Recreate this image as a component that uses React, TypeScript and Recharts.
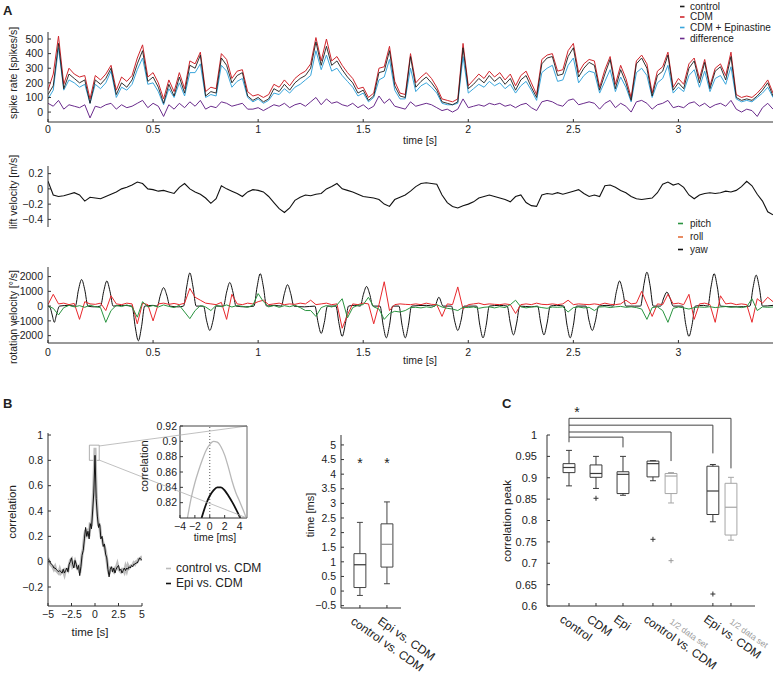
import React from "react";
import {
  LineChart,
  Line,
  XAxis,
  YAxis,
  ScatterChart,
  Scatter,
  ReferenceArea,
  ReferenceLine,
} from "recharts";

const FONT = "'Liberation Sans', Arial, Helvetica, sans-serif";
const W = 779;
const H = 675;
const INK = "#222";
const AXIS = "#333";

// ---- Panel A: one sample every 25 ms, 0 .. 3.45 s ----
const SAMPLE_STEP = 0.025;

const spikeControl = [
  120, 180, 470, 160, 260, 230, 200, 220, 60, 220,
  190, 230, 300, 120, 200, 170, 220, 330, 420, 210,
  240, 170, 60, 190, 110, 240, 130, 320, 300, 390,
  110, 140, 130, 370, 320, 200, 250, 270, 110, 80,
  100, 70, 90, 160, 140, 190, 150, 200, 230, 250,
  300, 480, 320, 450, 320, 350, 290, 240, 200, 130,
  150, 80, 110, 270, 280, 420, 180, 110, 100, 380,
  170, 210, 240, 200, 150, 70, 60, 50, 70, 440,
  160, 190, 230, 200, 250, 210, 240, 190, 230, 150,
  220, 250, 170, 100, 330, 370, 380, 250, 260, 380,
  440, 240, 300, 340, 320, 150, 260, 360, 160, 290,
  200, 80, 330, 370, 300, 110, 250, 280, 390, 150,
  200, 160, 300, 350, 200, 340, 160, 280, 310, 220,
  380, 100, 80, 90, 80, 110, 150, 200, 110,
];

const spikeCdm = [
  150, 260, 520, 190, 300, 260, 240, 250, 90, 250,
  220, 260, 320, 150, 240, 210, 250, 370, 460, 240,
  270, 200, 90, 220, 140, 270, 160, 350, 330, 410,
  140, 170, 160, 400, 360, 230, 280, 290, 140, 110,
  120, 100, 120, 190, 170, 220, 180, 230, 260, 280,
  330, 510, 350, 500, 350, 380, 320, 270, 230, 160,
  170, 100, 130, 300, 310, 450, 210, 130, 120, 400,
  200, 240, 270, 230, 170, 90, 80, 70, 90, 470,
  180, 220, 260, 230, 280, 240, 270, 220, 260, 180,
  250, 280, 200, 120, 360, 390, 400, 280, 290, 420,
  470, 270, 330, 360, 350, 170, 290, 380, 190, 320,
  230, 100, 350, 390, 330, 130, 280, 310, 410, 170,
  230, 190, 330, 370, 230, 360, 180, 300, 330, 250,
  410, 120, 100, 110, 100, 130, 170, 220, 130,
];

const spikeEpi = [
  90, 150, 440, 150, 220, 200, 170, 190, 60, 190,
  160, 200, 280, 100, 170, 150, 190, 290, 370, 190,
  200, 140, 50, 160, 100, 200, 110, 270, 270, 330,
  100, 120, 110, 320, 280, 170, 210, 230, 100, 70,
  90, 60, 80, 130, 120, 160, 130, 170, 190, 220,
  250, 420, 290, 390, 280, 300, 250, 210, 170, 110,
  130, 70, 100, 220, 240, 360, 150, 90, 90, 300,
  140, 180, 200, 170, 130, 60, 50, 50, 60, 380,
  130, 160, 190, 170, 210, 180, 200, 160, 190, 130,
  180, 210, 150, 80, 270, 300, 320, 210, 220, 320,
  370, 200, 250, 280, 270, 130, 210, 290, 140, 240,
  170, 70, 270, 300, 250, 100, 200, 230, 320, 130,
  170, 140, 250, 290, 170, 280, 140, 230, 250, 190,
  310, 90, 70, 80, 70, 100, 130, 170, 100,
];

const spikeDiff = [
  60, 40, 80, 20, 50, 40, 30, 50, -40, 40,
  30, 50, 60, 20, 50, 30, 40, 60, 80, 30,
  60, 40, -30, 50, 20, 60, 30, 70, 40, 80,
  20, 40, 30, 70, 60, 40, 50, 60, 20, 20,
  30, 10, 30, 50, 40, 60, 30, 50, 60, 40,
  70, 100, 50, 90, 60, 70, 50, 40, 60, 30,
  50, 20, 40, 110, 60, 90, 40, 30, 20, 70,
  40, 50, 60, 50, 30, 10, 20, 0, 20, 90,
  30, 40, 50, 40, 60, 50, 60, 40, 50, 30,
  50, 60, 30, 10, 70, 80, 70, 50, 40, 80,
  90, 50, 60, 70, 60, 20, 60, 80, 30, 60,
  40, 0, 70, 80, 60, 20, 50, 60, 80, 30,
  40, 30, 60, 70, 40, 60, 30, 50, 60, 40,
  80, 20, 0, 20, 10, -30, 30, 60, 20,
];

const liftVelocity = [
  0.1, -0.08, -0.1, -0.09, -0.07, -0.05, -0.08, -0.16, -0.11, -0.12,
  -0.13, -0.1, -0.07, -0.04, 0.0, 0.02, 0.05, 0.09, 0.07, 0.0,
  -0.01, -0.03, -0.02, -0.04, -0.06, 0.02, 0.07, 0.0, -0.04, -0.07,
  -0.12, -0.19, -0.13, 0.04, 0.0, -0.03, -0.06, -0.1, -0.04, -0.01,
  -0.02, -0.04, -0.1, -0.18, -0.26, -0.31, -0.25, -0.15, -0.11, -0.08,
  -0.09, -0.07, -0.06, 0.0, 0.03, 0.07, 0.0, -0.02, -0.04, -0.07,
  -0.1, -0.11, -0.12, -0.14, -0.2, -0.23, -0.14, -0.11, -0.08, -0.03,
  0.03, 0.07, 0.08, 0.07, 0.06, -0.08, -0.18, -0.23, -0.25, -0.22,
  -0.2, -0.17, -0.12, -0.1, -0.08, -0.1, -0.12, -0.14, -0.17, -0.1,
  -0.08, -0.18, -0.22, -0.23, -0.08, -0.06, -0.07, -0.05, -0.07, -0.05,
  -0.03, -0.01, -0.06, -0.1, -0.08, -0.1, 0.04, 0.05, 0.02, -0.02,
  -0.05, -0.1, -0.13, -0.14, -0.13, -0.12, -0.05, 0.06, 0.09, 0.05,
  0.07, 0.02, -0.08, -0.13, -0.08, -0.06, -0.05, -0.06, -0.05, -0.03,
  -0.04, -0.02, 0.03, 0.1, 0.04, -0.07, -0.16, -0.3, -0.34,
];

const pitchRate = [
  0, -150, -600, -100, 50, -50, 30, -80, 60, -40,
  -100, -1100, -300, 50, -30, 80, -60, -750, 300, -50,
  40, -60, 80, -20, -100, 50, -400, -850, -300, 30,
  -60, -300, 50, -40, 80, -60, 40, -20, -80, 60,
  850, 300, -50, 40, -80, 30, -40, 60, -100, -300,
  -300, -700, -100, 40, -60, 80, 500, -800, -100, 60,
  100, 600, -50, -200, -900, -500, -350, -400, -300, -100,
  -80, -120, -50, -100, 100, -60, -150, -200, -300, -80,
  -100, -60, -150, -80, -50, -120, -40, -100, 100, 400,
  -50, -120, -60, -40, -100, -150, -60, -80, -50, -400,
  -100, -60, -120, -80, -300, -60, -40, -100, -50, -20,
  -80, -50, -100, -200, -900, -100, -50, -300, -1100, -150,
  -60, -120, -200, -100, -60, -80, -40, -100, -60, -30,
  -80, -50, -100, -40, 500, -300, -50, -80, -60,
];

const rollRate = [
  100, 800, 150, 200, 100, 180, -900, 300, 150, 120,
  200, -300, 700, 150, 100, 200, 150, -1200, 200, 100,
  -1000, 150, 200, 120, 180, 100, 200, 1200, 600, 400,
  200, 150, 100, 250, -900, 800, 150, 100, 200, 150,
  300, 400, 100, 150, 200, 100, 150, 120, 200, 150,
  400, 100, 150, 200, 100, 150, -1500, -600, 150, 100,
  200, 150, -1200, 100, 1650, -300, 100, 150, 120, 100,
  150, 100, 200, 120, 100, -700, 150, 100, 1300, -200,
  100, 150, 200, 100, 150, 120, 100, 150, 100, -500,
  100, 150, 100, 200, 120, 100, 150, 100, 150, 400,
  100, 150, 120, 100, 150, 100, 200, 120, 100, 150,
  400, 150, 200, 1000, 150, -700, 150, 100, 800, 150,
  200, 100, 800, -900, 150, 200, 100, -1100, 700, 150,
  200, 100, 150, 100, -1100, 500, 200, 600, 300,
];

// yaw is smooth between saccades, so it is kept as [time s, deg/s] samples
const yawSamples: [number, number][] = [
  [0, 0], [0.01, -100], [0.02, -600], [0.03, -1100], [0.04, -600], [0.055, 0],
  [0.1, 50], [0.13, 0], [0.145, 1100], [0.16, 1800], [0.175, 1100], [0.19, 0],
  [0.22, -50], [0.25, 0], [0.265, 1000], [0.28, 1700], [0.295, 1000], [0.31, 0],
  [0.35, 50], [0.4, 0], [0.415, -1400], [0.43, -2350], [0.445, -1400], [0.46, 0],
  [0.5, 50], [0.52, 0], [0.535, 750], [0.55, 1250], [0.565, 750], [0.58, 0],
  [0.62, -50], [0.645, 0], [0.66, 1300], [0.675, 2250], [0.69, 1300], [0.705, 0],
  [0.74, 0], [0.755, -1000], [0.77, -1650], [0.785, -1000], [0.8, 0],
  [0.835, 0], [0.85, 950], [0.865, 1600], [0.88, 950], [0.895, 0],
  [0.94, -50], [0.98, 0], [0.995, 1300], [1.01, 2200], [1.025, 1300], [1.04, 0],
  [1.08, 50], [1.11, 0], [1.125, 850], [1.14, 1450], [1.155, 850], [1.17, 0],
  [1.22, -50], [1.27, 0], [1.285, -1100], [1.3, -1850], [1.315, -1100], [1.33, 0],
  [1.37, 0], [1.385, -1200], [1.4, -2050], [1.415, -1200], [1.43, 0],
  [1.46, 50], [1.486, 0], [1.501, 800], [1.516, 1330], [1.531, 800], [1.546, 0],
  [1.58, 0], [1.595, -1300], [1.61, -2150], [1.625, -1300], [1.64, 0],
  [1.67, 0], [1.685, -1300], [1.7, -2150], [1.715, -1300], [1.73, 0],
  [1.8, 50], [1.84, 0], [1.86, 600], [1.88, 0],
  [1.92, 0], [1.935, -1000], [1.95, -1650], [1.965, -1000], [1.98, 0],
  [2.04, 0], [2.055, -1300], [2.07, -2150], [2.085, -1300], [2.1, 0],
  [2.15, 50], [2.185, 0], [2.2, -1150], [2.215, -1950], [2.23, -1150], [2.245, 0],
  [2.3, -50], [2.33, 0], [2.345, -1150], [2.36, -1950], [2.375, -1150], [2.39, 0],
  [2.42, 50], [2.455, 0], [2.47, -1300], [2.485, -2150], [2.5, -1300], [2.515, 0],
  [2.56, 0], [2.575, -1000], [2.59, -1650], [2.605, -1000], [2.62, 0],
  [2.66, 50], [2.69, 0], [2.705, 1000], [2.72, 1700], [2.735, 1000], [2.75, 0],
  [2.79, 0], [2.82, 0], [2.835, 1400], [2.85, 2300], [2.865, 1400], [2.88, 0],
  [2.915, 0], [2.93, 550], [2.945, 950], [2.96, 550], [2.975, 0],
  [3.02, 0], [3.035, -1250], [3.05, -2050], [3.065, -1250], [3.08, 0],
  [3.12, 50], [3.14, 0], [3.155, 1300], [3.17, 2200], [3.185, 1300], [3.2, 0],
  [3.28, -50], [3.34, 0], [3.355, 1250], [3.37, 2100], [3.385, 1250], [3.4, 0],
  [3.45, 50],
];

const timeTicks = [0, 0.5, 1, 1.5, 2, 2.5, 3];

// ---- Panel B: cross-correlation, one sample every 125 ms from -5 s ----
const CORR_STEP = 0.125;
const corrControlVsCdm = [
  0.03, 0.0, -0.02, -0.03, -0.04, -0.06, -0.04, -0.07, -0.08, -0.09,
  -0.06, -0.09, -0.08, -0.07, -0.1, -0.06, -0.06, -0.07, -0.03, 0.01,
  0.02, -0.04, -0.03, 0.0, -0.03, -0.05, -0.04, -0.09, -0.03, 0.06,
  0.1, 0.2, 0.25, 0.22, 0.26, 0.2, 0.31, 0.28, 0.42, 0.6,
  0.9, 0.55, 0.38, 0.29, 0.28, 0.2, 0.18, 0.14, 0.12, 0.08,
  0.02, -0.05, -0.1, -0.05, -0.05, -0.07, -0.08, -0.05, -0.05, -0.02,
  -0.06, -0.07, -0.08, -0.06, -0.06, -0.08, -0.04, -0.07, -0.03, -0.05,
  -0.04, -0.03, -0.03, -0.01, -0.02, 0.0, 0.0, 0.02, 0.02, 0.03,
  0.01,
];
const corrEpiVsCdm = [
  0.02, 0.01, -0.01, -0.02, -0.03, -0.05, -0.05, -0.06, -0.07, -0.08,
  -0.07, -0.08, -0.09, -0.06, -0.09, -0.07, -0.05, -0.08, -0.02, 0.0,
  0.03, -0.02, -0.05, 0.01, -0.02, -0.06, -0.03, -0.11, -0.04, 0.05,
  0.09, 0.18, 0.27, 0.2, 0.24, 0.18, 0.3, 0.26, 0.4, 0.55,
  0.84, 0.5, 0.36, 0.27, 0.3, 0.18, 0.2, 0.12, 0.14, 0.06,
  0.03, -0.06, -0.12, -0.06, -0.04, -0.08, -0.05, -0.09, -0.06, -0.04,
  -0.03, -0.07, -0.06, -0.09, -0.07, -0.05, -0.07, -0.05, -0.06, -0.04,
  -0.05, -0.03, -0.04, -0.02, -0.02, -0.01, -0.01, 0.01, 0.03, 0.02,
  0.01,
];

// inset, [lag ms, correlation]
const insetControlVsCdm: [number, number][] = [
  [-3, 0.8], [-2.5, 0.826], [-2, 0.846], [-1.5, 0.862], [-1, 0.876], [-0.5, 0.888],
  [0, 0.896], [0.5, 0.9], [1, 0.899], [1.5, 0.893], [2, 0.882], [2.5, 0.866],
  [3, 0.848], [3.5, 0.833], [4, 0.822], [4.5, 0.81], [4.9, 0.8],
];
const insetEpiVsCdm: [number, number][] = [
  [-1.1, 0.8], [-0.5, 0.818], [0, 0.829], [0.5, 0.836], [1, 0.84], [1.5, 0.84],
  [2, 0.836], [2.5, 0.829], [3, 0.821], [3.5, 0.812], [4.1, 0.8],
];

// peak lag box plot (ms)
const lagPositions = [1, 2];
const lagLabels = ["control vs. CDM", "Epi vs. CDM"];
const lagLow = [-0.15, 0.25];
const lagQ1 = [0.12, 0.82];
const lagMedian = [0.9, 1.6];
const lagQ3 = [1.28, 2.3];
const lagHigh = [2.35, 3.05];
const lagStars = [4.42, 4.42];
const lagTicks = [-0.5, 0, 0.5, 1, 1.5, 2, 2.5, 3, 3.5, 4, 4.5, 5];

// ---- Panel C: correlation peaks ----
const peakPositions = [1, 2, 3, 4.11, 4.78, 6.33, 7];
const peakLabels = ["control", "CDM", "Epi", "control vs. CDM", "1/2 data set", "Epi vs. CDM", "1/2 data set"];
const peakGroups = ["full", "full", "full", "full", "half", "full", "half"];
const peakLow = [0.881, 0.875, 0.859, 0.893, 0.841, 0.797, 0.754];
const peakQ1 = [0.912, 0.901, 0.863, 0.902, 0.863, 0.814, 0.766];
const peakMedian = [0.924, 0.91, 0.908, 0.933, 0.904, 0.869, 0.831];
const peakQ3 = [0.933, 0.93, 0.914, 0.939, 0.91, 0.927, 0.887];
const peakHigh = [0.964, 0.95, 0.95, 0.94, 0.912, 0.931, 0.901];
const outlierX = [2, 4.11, 4.78, 6.33];
const outlierY = [0.852, 0.756, 0.706, 0.628];
const peakTicks = [0.6, 0.65, 0.7, 0.75, 0.8, 0.85, 0.9, 0.95, 1];
// significance brackets from "control"
const bracketTargets = [7, 6.33, 4.78, 3];
const bracketLevels = [1.039, 1.023, 1.007, 0.995];
const bracketEnds = [0.922, 0.957, 0.939, 0.971];
const bracketRootEnd = 0.983;

// ---- derived rows ----
const gridTimes = spikeControl.map((_, i) => Math.round(i * SAMPLE_STEP * 1000) / 1000);
const spikeRows = gridTimes.map((t, i) => ({
  t,
  control: spikeControl[i],
  cdm: spikeCdm[i],
  epi: spikeEpi[i],
  diff: spikeDiff[i],
}));
const liftRows = gridTimes.map((t, i) => ({ t, v: liftVelocity[i] }));
const rotRows = gridTimes.map((t, i) => ({ t, pitch: pitchRate[i], roll: rollRate[i] }));
const yawRows = yawSamples.map(([t, v]) => ({ t, v }));
const corrRows = corrEpiVsCdm.map((v, i) => ({
  t: Math.round((i * CORR_STEP - 5) * 1000) / 1000,
  epi: v,
  control: corrControlVsCdm[i],
}));
const insetCtrlRows = insetControlVsCdm.map(([t, v]) => ({ t, v }));
const insetEpiRows = insetEpiVsCdm.map(([t, v]) => ({ t, v }));

const fmt = (v: number) => (v < 0 ? "\u2212" + String(-v) : String(v));
const tickStyle = (size: number) => ({ fontSize: size, fill: INK, fontFamily: FONT });
const layer: React.CSSProperties = { position: "absolute", left: 0, top: 0 };

const COLORS = {
  control: "#1c1c1c",
  cdm: "#d0262d",
  epi: "#3aa6dc",
  diff: "#6a2b8c",
  pitch: "#2a9440",
  roll: "#e8282c",
  dark: "#3a3a3a",
  half: "#a6a6a6",
};

function axisX(domain: [number, number], ticks: number[], margin = 7) {
  return {
    type: "number" as const,
    dataKey: "t",
    domain,
    ticks,
    interval: 0 as const,
    allowDataOverflow: true,
    height: 20,
    tickSize: -3,
    tickMargin: margin,
    tickFormatter: fmt,
    tick: tickStyle(10.5),
    axisLine: { stroke: AXIS },
    tickLine: { stroke: AXIS },
  };
}

function axisY(domain: [number, number], ticks: number[], margin = 8, size = 10.5) {
  return {
    type: "number" as const,
    domain,
    ticks,
    interval: 0 as const,
    allowDataOverflow: true,
    width: 40,
    tickSize: -3,
    tickMargin: margin,
    tickFormatter: fmt,
    tick: tickStyle(size),
    axisLine: { stroke: AXIS },
    tickLine: { stroke: AXIS },
  };
}

function SpikePanel() {
  return (
    <LineChart width={W} height={H} data={spikeRows} margin={{ top: 32, right: 6, bottom: 533, left: 8 }}>
      <XAxis {...axisX([0, 3.45], timeTicks)} />
      <YAxis {...axisY([-68, 548], [0, 100, 200, 300, 400, 500])} />
      <Line dataKey="epi" stroke={COLORS.epi} strokeWidth={1} dot={false} isAnimationActive={false} />
      <Line dataKey="cdm" stroke={COLORS.cdm} strokeWidth={1} dot={false} isAnimationActive={false} />
      <Line dataKey="control" stroke={COLORS.control} strokeWidth={0.9} dot={false} isAnimationActive={false} />
      <Line dataKey="diff" stroke={COLORS.diff} strokeWidth={1} dot={false} isAnimationActive={false} />
    </LineChart>
  );
}

function LiftPanel() {
  return (
    <LineChart width={W} height={H} data={liftRows} margin={{ top: 166, right: 6, bottom: 448, left: 8 }}>
      <XAxis type="number" dataKey="t" domain={[0, 3.45]} hide allowDataOverflow />
      <YAxis {...axisY([-0.5, 0.3], [-0.4, -0.2, 0, 0.2])} />
      <Line dataKey="v" stroke="#111" strokeWidth={1.1} dot={false} isAnimationActive={false} />
    </LineChart>
  );
}

function RotationPanel() {
  return (
    <LineChart width={W} height={H} data={rotRows} margin={{ top: 267, right: 6, bottom: 312, left: 8 }}>
      <XAxis {...axisX([0, 3.45], timeTicks, 9)} />
      <YAxis {...axisY([-2500, 2650], [-2000, -1000, 0, 1000, 2000])} />
      <Line data={yawRows} dataKey="v" type="monotone" stroke="#111" strokeWidth={1} dot={false} isAnimationActive={false} />
      <Line dataKey="roll" stroke={COLORS.roll} strokeWidth={1} dot={false} isAnimationActive={false} />
      <Line dataKey="pitch" stroke={COLORS.pitch} strokeWidth={1} dot={false} isAnimationActive={false} />
    </LineChart>
  );
}

function CorrelationPanel() {
  return (
    <LineChart width={W} height={H} data={corrRows} margin={{ top: 433, right: 637, bottom: 49, left: 8 }}>
      <XAxis {...axisX([-5, 5], [-5, -2.5, 0, 2.5, 5], 8)} />
      <YAxis {...axisY([-0.35, 1.016], [-0.2, 0, 0.2, 0.4, 0.6, 0.8, 1])} />
      <Line dataKey="control" stroke="#bdbdbd" strokeWidth={3} dot={false} isAnimationActive={false} />
      <Line dataKey="epi" stroke="#111" strokeWidth={1} dot={false} isAnimationActive={false} />
      <ReferenceArea x1={-0.6} x2={0.45} y1={0.8} y2={0.92} fill="none" stroke="#9a9a9a" strokeWidth={0.8} />
    </LineChart>
  );
}

function InsetPanel() {
  return (
    <LineChart width={W} height={H} margin={{ top: 426, right: 532, bottom: 137, left: 140 }}>
      <XAxis {...axisX([-4, 5], [-4, -2, 0, 2, 4], 8)} />
      <YAxis {...axisY([0.8, 0.92], [0.82, 0.84, 0.86, 0.88, 0.9, 0.92], 6)} />
      <ReferenceLine x={0} stroke="#555" strokeDasharray="1 2" />
      <Line data={insetCtrlRows} dataKey="v" type="monotone" stroke="#b8b8b8" strokeWidth={1.3} dot={false} isAnimationActive={false} />
      <Line data={insetEpiRows} dataKey="v" type="monotone" stroke="#111" strokeWidth={1.8} dot={false} isAnimationActive={false} />
    </LineChart>
  );
}

function RotatedTick(props: any, labels: string[], positions: number[], groups?: string[]) {
  const { x, y, payload } = props;
  const i = positions.indexOf(payload.value);
  if (i < 0) return <g />;
  const half = groups ? groups[i] === "half" : false;
  const ax = half ? x - 2 : x - 10;
  const ay = half ? y + 17 : y + 15;
  return (
    <text
      x={ax}
      y={ay}
      transform={`rotate(35 ${ax} ${ay})`}
      fontSize={half ? 8.5 : 12}
      fill={half ? "#9a9a9a" : INK}
      fontFamily={FONT}
    >
      {labels[i]}
    </text>
  );
}

function boxElements(
  key: string,
  pos: number,
  low: number,
  q1: number,
  med: number,
  q3: number,
  high: number,
  color: string,
  medColor: string
) {
  const hw = 0.22;
  const cap = 0.11;
  return [
    <ReferenceLine key={`${key}-wl`} segment={[{ x: pos, y: low }, { x: pos, y: q1 }]} stroke={color} />,
    <ReferenceLine key={`${key}-wh`} segment={[{ x: pos, y: q3 }, { x: pos, y: high }]} stroke={color} />,
    <ReferenceLine key={`${key}-cl`} segment={[{ x: pos - cap, y: low }, { x: pos + cap, y: low }]} stroke={color} />,
    <ReferenceLine key={`${key}-ch`} segment={[{ x: pos - cap, y: high }, { x: pos + cap, y: high }]} stroke={color} />,
    <ReferenceArea key={`${key}-box`} x1={pos - hw} x2={pos + hw} y1={q1} y2={q3} fill="none" stroke={color} strokeWidth={1} fillOpacity={0} />,
    <ReferenceLine key={`${key}-med`} segment={[{ x: pos - hw, y: med }, { x: pos + hw, y: med }]} stroke={medColor} strokeWidth={1.2} />,
  ];
}

function LagBoxPanel() {
  const stars = lagPositions.map((x, i) => ({ x, y: lagStars[i] }));
  return (
    <ScatterChart width={W} height={H} margin={{ top: 435, right: 378, bottom: 47, left: 301 }}>
      <XAxis
        type="number"
        dataKey="x"
        domain={[0.3, 2.52]}
        ticks={lagPositions}
        interval={0}
        height={20}
        tickSize={-3}
        tickMargin={3}
        axisLine={{ stroke: AXIS }}
        tickLine={{ stroke: AXIS }}
        tick={(p: any) => RotatedTick(p, lagLabels, lagPositions)}
      />
      <YAxis dataKey="y" {...axisY([-0.58, 5.34], lagTicks)} />
      {lagPositions.flatMap((p, i) =>
        boxElements(`lag${i}`, p, lagLow[i], lagQ1[i], lagMedian[i], lagQ3[i], lagHigh[i], "#444", i === 0 ? "#333" : "#8a8a8a")
      )}
      <Scatter
        data={stars}
        isAnimationActive={false}
        shape={(p: any) => (
          <text x={p.cx} y={p.cy + 6} textAnchor="middle" fontSize={14} fill={INK} fontFamily={FONT}>
            *
          </text>
        )}
      />
    </ScatterChart>
  );
}

function plusShape(color: string) {
  return (p: any) => (
    <path d={`M${p.cx - 2.5},${p.cy}h5M${p.cx},${p.cy - 2.5}v5`} stroke={color} strokeWidth={1} fill="none" />
  );
}

function PeakBoxPanel() {
  const groupOf = (x: number) => peakGroups[peakPositions.indexOf(x)];
  const fullOut = outlierX.map((x, i) => ({ x, y: outlierY[i] })).filter((d) => groupOf(d.x) === "full");
  const halfOut = outlierX.map((x, i) => ({ x, y: outlierY[i] })).filter((d) => groupOf(d.x) === "half");
  return (
    <ScatterChart width={W} height={H} margin={{ top: 435, right: 24, bottom: 49, left: 507 }}>
      <XAxis
        type="number"
        dataKey="x"
        domain={[0.185, 7.89]}
        ticks={peakPositions}
        interval={0}
        height={20}
        tickSize={-3}
        tickMargin={3}
        axisLine={{ stroke: AXIS }}
        tickLine={{ stroke: AXIS }}
        tick={(p: any) => RotatedTick(p, peakLabels, peakPositions, peakGroups)}
      />
      <YAxis dataKey="y" {...axisY([0.6, 1], peakTicks, 13, 11)} />
      {peakPositions.flatMap((p, i) => {
        const c = peakGroups[i] === "half" ? COLORS.half : COLORS.dark;
        return boxElements(`pk${i}`, p, peakLow[i], peakQ1[i], peakMedian[i], peakQ3[i], peakHigh[i], c, c);
      })}
      <ReferenceLine
        segment={[{ x: 1, y: bracketLevels[0] }, { x: 1, y: bracketRootEnd }]}
        stroke="#444"
        ifOverflow="visible"
      />
      {bracketTargets.flatMap((to, i) => [
        <ReferenceLine
          key={`bh${i}`}
          segment={[{ x: 1, y: bracketLevels[i] }, { x: to, y: bracketLevels[i] }]}
          stroke="#444"
          ifOverflow="visible"
        />,
        <ReferenceLine
          key={`bv${i}`}
          segment={[{ x: to, y: bracketLevels[i] }, { x: to, y: bracketEnds[i] }]}
          stroke="#444"
          ifOverflow="visible"
        />,
      ])}
      <Scatter data={fullOut} isAnimationActive={false} shape={plusShape("#333")} />
      <Scatter data={halfOut} isAnimationActive={false} shape={plusShape("#9a9a9a")} />
    </ScatterChart>
  );
}

function Overlay() {
  const txt = { fontFamily: FONT, fill: INK };
  const vlabel = (x: number, y: number, s: string, size = 10.5) => (
    <text
      transform={`translate(${x},${y}) rotate(-90)`}
      textAnchor="middle"
      dominantBaseline="central"
      fontSize={size}
      {...txt}
    >
      {s}
    </text>
  );
  const legendA = [
    { label: "control", color: COLORS.control, y: 6 },
    { label: "CDM", color: COLORS.cdm, y: 16.5 },
    { label: "CDM + Epinastine", color: COLORS.epi, y: 27 },
    { label: "difference", color: COLORS.diff, y: 38 },
  ];
  const legendRot = [
    { label: "pitch", color: COLORS.pitch, y: 223 },
    { label: "roll", color: "#e4703c", y: 236.5 },
    { label: "yaw", color: "#111", y: 249 },
  ];
  return (
    <svg width={W} height={H} style={{ ...layer, pointerEvents: "none" }}>
      <text x={3} y={15} fontSize={13} fontWeight="bold" {...txt}>A</text>
      <text x={3} y={408} fontSize={13} fontWeight="bold" {...txt}>B</text>
      <text x={502} y={408} fontSize={13} fontWeight="bold" {...txt}>C</text>

      {vlabel(13, 73, "spike rate [spikes/s]")}
      {vlabel(13, 192, "lift velocity [m/s]")}
      {vlabel(13, 317, "rotation velocity [\u00b0/s]")}
      <text x={420} y={140} textAnchor="middle" dominantBaseline="central" fontSize={10.5} {...txt}>time [s]</text>
      <text x={420} y={360} textAnchor="middle" dominantBaseline="central" fontSize={10.5} {...txt}>time [s]</text>

      {legendA.map((l) => (
        <g key={l.label}>
          <line x1={680} x2={684.5} y1={l.y + 0.5} y2={l.y + 0.5} stroke={l.color} strokeWidth={1.6} />
          <text x={690} y={l.y} dominantBaseline="central" fontSize={10} {...txt}>{l.label}</text>
        </g>
      ))}
      {legendRot.map((l) => (
        <g key={l.label}>
          <line x1={678} x2={683} y1={l.y + 0.5} y2={l.y + 0.5} stroke={l.color} strokeWidth={1.6} />
          <text x={690} y={l.y} dominantBaseline="central" fontSize={10} {...txt}>{l.label}</text>
        </g>
      ))}

      {vlabel(12, 512, "correlation", 11.5)}
      <text x={90} y={632} textAnchor="middle" dominantBaseline="central" fontSize={11.5} {...txt}>time [s]</text>
      <line x1={99} y1={446} x2={247} y2={426} stroke="#b0b0b0" strokeWidth={0.8} />
      <line x1={99} y1={460} x2={247} y2={518} stroke="#b0b0b0" strokeWidth={0.8} />
      <line x1={180} y1={426} x2={247} y2={426} stroke="#444" strokeWidth={1} />
      <line x1={247} y1={426} x2={247} y2={518} stroke="#666" strokeWidth={1} />
      {vlabel(144, 466, "correlation", 11)}
      <text x={215} y={537} textAnchor="middle" dominantBaseline="central" fontSize={10.5} {...txt}>time [ms]</text>

      <line x1={166} x2={171} y1={568.5} y2={568.5} stroke="#bbb" strokeWidth={1.6} />
      <text x={176} y={568} dominantBaseline="central" fontSize={12} {...txt}>control vs. CDM</text>
      <line x1={166} x2={171} y1={583.5} y2={583.5} stroke="#111" strokeWidth={1.6} />
      <text x={176} y={583} dominantBaseline="central" fontSize={12} {...txt}>Epi vs. CDM</text>

      {vlabel(310, 515, "time [ms]", 11)}
      {vlabel(507, 521, "correlation peak", 11.5)}
      <text x={577} y={417} textAnchor="middle" fontSize={14} {...txt}>*</text>
    </svg>
  );
}

export default function App() {
  return (
    <div style={{ position: "absolute", left: 0, top: 0, width: W, height: H, background: "#fff", overflow: "hidden" }}>
      <div style={layer}><SpikePanel /></div>
      <div style={layer}><LiftPanel /></div>
      <div style={layer}><RotationPanel /></div>
      <div style={layer}><CorrelationPanel /></div>
      <div style={layer}><InsetPanel /></div>
      <div style={layer}><LagBoxPanel /></div>
      <div style={layer}><PeakBoxPanel /></div>
      <Overlay />
    </div>
  );
}
